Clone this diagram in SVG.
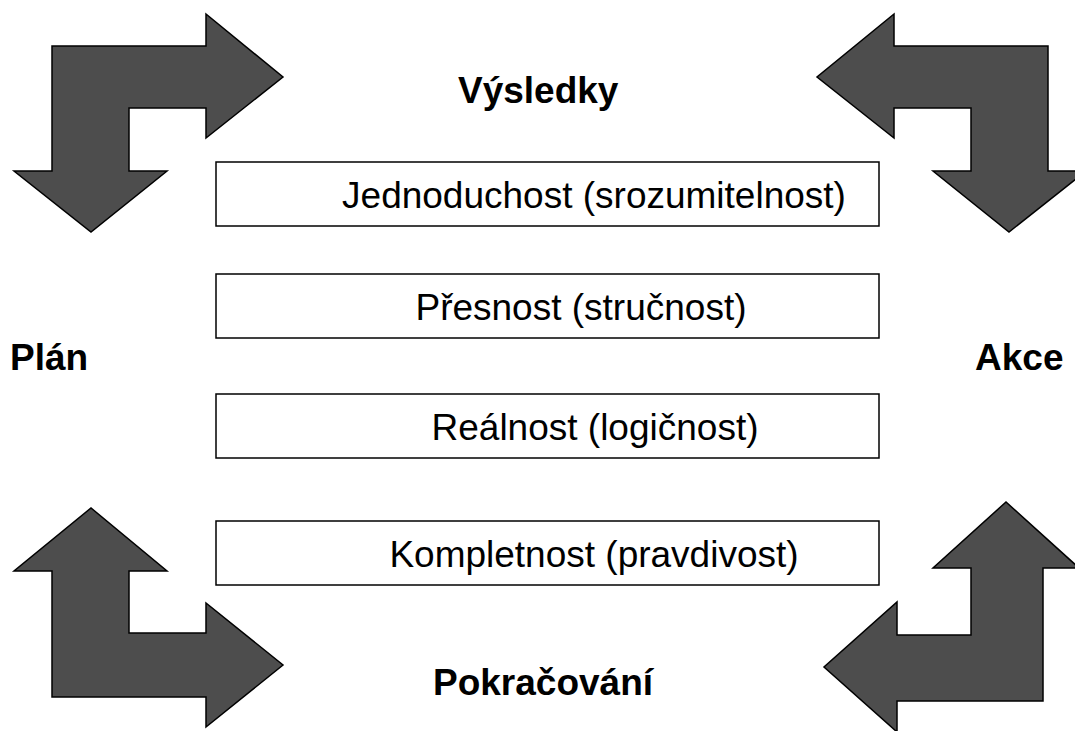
<svg xmlns="http://www.w3.org/2000/svg" width="1075" height="731" viewBox="0 0 1075 731">
<style>
.arr{fill:#4d4d4d;stroke:#000;stroke-width:1.5;stroke-linejoin:miter}
.box{fill:#fff;stroke:#000;stroke-width:1.5}
.t{font-family:"Liberation Sans",Arial,sans-serif;font-size:37px;fill:#000}
.b{font-family:"Liberation Sans",Arial,sans-serif;font-size:37px;font-weight:bold;fill:#000}
</style>
<rect width="1075" height="731" fill="#fff"/>
<g id="connectors">
<polygon id="arrow-tl" class="arr" points="52,46 206,46 206,14 283,77 206,138 206,108 129,108 129,171 167,171 91,232 14,171 52,171"/>
<polygon id="arrow-tr" class="arr" points="1048,46 894,46 894,14 817,77 894,138 894,108 971,108 971,171 933,171 1009,232 1086,171 1048,171"/>
<polygon id="arrow-bl" class="arr" points="52,697 206,697 206,727 283,665 206,603 206,633 129,633 129,571 167,571 91,508 14,571 52,571"/>
<polygon id="arrow-br" class="arr" points="1043,701 897,701 897,732 824,667 897,602 897,635 971,635 971,568 933,568 1006,502 1079,568 1043,568"/>
</g>
<g id="label-vysledky"><text class="b" x="458" y="103">Výsledky</text></g>
<g id="label-plan"><text class="b" x="10" y="370">Plán</text></g>
<g id="label-akce"><text class="b" x="975" y="370">Akce</text></g>
<g id="label-pokracovani"><text class="b" x="433" y="695">Pokračování</text></g>
<g id="box1"><rect class="box" x="216" y="162" width="663" height="64"/><text class="t" x="594" y="208" text-anchor="middle">Jednoduchost (srozumitelnost)</text></g>
<g id="box2"><rect class="box" x="216" y="274" width="663" height="64"/><text class="t" x="581" y="320" text-anchor="middle">Přesnost (stručnost)</text></g>
<g id="box3"><rect class="box" x="216" y="394" width="663" height="64"/><text class="t" x="595" y="440" text-anchor="middle">Reálnost (logičnost)</text></g>
<g id="box4"><rect class="box" x="216" y="521" width="663" height="64"/><text class="t" x="594" y="567" text-anchor="middle">Kompletnost (pravdivost)</text></g>
</svg>
